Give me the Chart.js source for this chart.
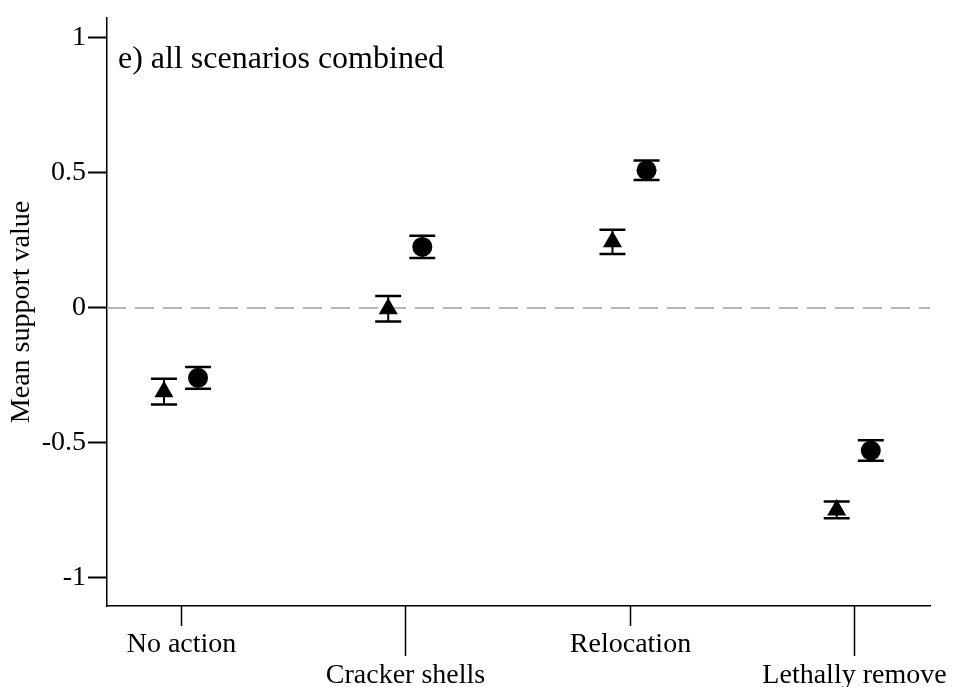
<!DOCTYPE html>
<html>
<head>
<meta charset="utf-8">
<script src="https://cdn.jsdelivr.net/npm/chart.js@4"></script>
<style>
  html, body { margin: 0; padding: 0; background: #fff; }
  #wrap { width: 955px; height: 687px; }
</style>
</head>
<body>
<div id="wrap"><canvas id="chart"></canvas></div>
<script>
// data
const categories = ['No action', 'Cracker shells', 'Relocation', 'Lethally remove'];
const triMean = [-0.31, -0.003, 0.245, -0.748];
const triErr = [0.048, 0.047, 0.045, 0.031];
const circMean = [-0.259, 0.226, 0.51, -0.528];
const circErr = [0.04, 0.041, 0.036, 0.038];
const yTicks = [-1, -0.5, 0, 0.5, 1];
const yTickLabels = ['-1', '-0.5', '0', '0.5', '1'];

const FONT = "'Liberation Serif', 'Times New Roman', serif";
const shift = 0.076;

function points(means, dx) {
  return means.map((v, i) => ({ x: i + 1 + dx, y: v }));
}

// zero line, error bars, x ticks and labels, panel title
const extras = {
  id: 'extras',
  beforeDatasetsDraw(chart) {
    const ctx = chart.ctx, xs = chart.scales.x, ys = chart.scales.y, a = chart.chartArea;
    ctx.save();
    // dashed zero line
    const y0 = ys.getPixelForValue(0);
    ctx.strokeStyle = '#a0a0a0';
    ctx.lineWidth = 1.5;
    ctx.setLineDash([19, 9]);
    ctx.beginPath();
    ctx.moveTo(a.left, y0);
    ctx.lineTo(a.right, y0);
    ctx.stroke();
    ctx.setLineDash([]);

    // error bars
    const errs = [triErr, circErr];
    ctx.strokeStyle = '#000';
    chart.data.datasets.forEach((ds, d) => {
      ds.data.forEach((p, i) => {
        const px = xs.getPixelForValue(p.x);
        const top = ys.getPixelForValue(p.y + errs[d][i]);
        const bot = ys.getPixelForValue(p.y - errs[d][i]);
        ctx.lineWidth = 2;
        ctx.beginPath();
        ctx.moveTo(px, top); ctx.lineTo(px, bot);
        ctx.stroke();
        ctx.lineWidth = 2.5;
        ctx.beginPath();
        ctx.moveTo(px - 13, top); ctx.lineTo(px + 13, top);
        ctx.moveTo(px - 13, bot); ctx.lineTo(px + 13, bot);
        ctx.stroke();
      });
    });
    ctx.restore();
  },
  afterDraw(chart) {
    const ctx = chart.ctx, xs = chart.scales.x, a = chart.chartArea;
    ctx.save();
    ctx.strokeStyle = '#000';
    ctx.fillStyle = '#000';
    ctx.lineWidth = 1.5;
    ctx.font = '28px ' + FONT;
    ctx.textAlign = 'center';
    ctx.textBaseline = 'alphabetic';
    categories.forEach((c, i) => {
      const px = Math.round(xs.getPixelForValue(i + 1)) + 0.5;
      const low = i % 2 === 1;
      ctx.beginPath();
      ctx.moveTo(px, a.bottom);
      ctx.lineTo(px, a.bottom + (low ? 50 : 20));
      ctx.stroke();
      ctx.fillText(c, px, a.bottom + (low ? 77 : 46));
    });
    // panel title
    ctx.textAlign = 'left';
    ctx.font = '32px ' + FONT;
    ctx.fillText('e) all scenarios combined', a.left + 11, 68);
    ctx.restore();
  }
};

new Chart(document.getElementById('chart'), {
  type: 'scatter',
  data: {
    datasets: [
      {
        label: 'triangle',
        data: points(triMean, -shift),
        pointStyle: 'triangle',
        pointRadius: 11,
        backgroundColor: '#000',
        borderColor: '#000',
        borderWidth: 0,
      },
      {
        label: 'circle',
        data: points(circMean, shift),
        pointStyle: 'circle',
        pointRadius: 10,
        backgroundColor: '#000',
        borderColor: '#000',
        borderWidth: 0,
      }
    ]
  },
  options: {
    responsive: true,
    maintainAspectRatio: false,
    animation: false,
    layout: { padding: { top: 18, right: 25, left: 0, bottom: 0 } },
    plugins: { legend: { display: false }, tooltip: { enabled: false } },
    scales: {
      x: {
        type: 'linear',
        min: 0.67,
        max: 4.34,
        ticks: { display: false },
        grid: { display: false },
        border: { display: true, color: '#000', width: 1.5 },
        afterFit: s => { s.height = 81; },
      },
      y: {
        min: -1.104,
        max: 1.074,
        afterBuildTicks: s => { s.ticks = yTicks.map(v => ({ value: v })); },
        ticks: {
          color: '#000',
          padding: 2,
          font: { family: FONT, size: 28 },
          callback: v => yTickLabels[yTicks.indexOf(v)],
        },
        grid: { drawOnChartArea: false, drawTicks: true, tickLength: 19, tickColor: '#000', tickWidth: 2 },
        border: { display: true, color: '#000', width: 1.5 },
        title: {
          display: true,
          text: 'Mean support value',
          color: '#000',
          font: { family: FONT, size: 28 },
          padding: { top: 5, bottom: 0 },
        },
        afterFit: s => { s.width = 107; s.paddingTop = 0; s.paddingBottom = 0; },
      }
    }
  },
  plugins: [extras]
});
</script>
</body>
</html>
